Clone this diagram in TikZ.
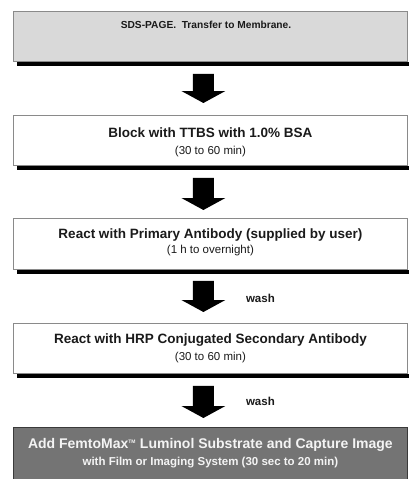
\documentclass[tikz,border=0pt]{standalone}
\usepackage{fontspec}
\setmainfont{Liberation Sans}
\usetikzlibrary{calc}
\definecolor{lightbox}{HTML}{D9D9D9}
\definecolor{darkbox}{HTML}{747474}
\definecolor{boxline}{HTML}{8A8A8A}
\definecolor{darkline}{HTML}{3A3A3A}
\definecolor{inktext}{HTML}{1A1A1A}
\definecolor{paletext}{HTML}{F4F4F4}
\newcommand{\blockarr}[2]{%
  \fill[black] ($(#1)+(-10.5,0)$) -- ($(#1)+(10.5,0)$) -- ($(#2)+(10.5,-12)$) -- ($(#2)+(22,-12)$) -- (#2) -- ($(#2)+(-22,-12)$) -- ($(#2)+(-10.5,-12)$) -- cycle;}
\newcommand{\subline}[1]{{\mdseries\fontsize{11.5}{13}\selectfont #1}}
\begin{document}
\begin{tikzpicture}[x=1pt,y=-1pt,
  stepbox/.style={draw=boxline, line width=0.8pt, fill=white, minimum width=394pt,
    minimum height=50pt, anchor=north west, inner sep=0pt, align=center,
    text=inktext, font=\bfseries\fontsize{13.5}{17}\selectfont},
  washlabel/.style={font=\bfseries\fontsize{11.5}{13}\selectfont, text=inktext, inner sep=0pt}]
\useasboundingbox (0,0) rectangle (409,479);
\fill[white] (0,0) rectangle (409,479);
% boxes
\node[stepbox, fill=lightbox] (b1) at (13,11) {};
\node[font=\bfseries\fontsize{10.2}{12}\selectfont, text=inktext, inner sep=0pt] (b1t) at (206,25)
  {SDS-PAGE.\ \ Transfer to Membrane.};
\node[stepbox] (b2) at (13,115)
  {\rule{0pt}{14pt}Block with TTBS with 1.0\% BSA\\\subline{(30 to 60 min)}};
\node[stepbox, minimum height=51pt] (b3) at (13,218)
  {React with Primary Antibody (supplied by user)\\[-2pt]\subline{(1 h to overnight)}\rule[-6pt]{0pt}{6pt}};
\node[stepbox] (b4) at (13,323)
  {React with HRP Conjugated Secondary Antibody\\\subline{(30 to 60 min)}};
\node[stepbox, fill=darkbox, draw=darkline, text=paletext, minimum height=54pt,
  font=\bfseries\fontsize{14}{17}\selectfont] (b5) at (13,427)
  {Add FemtoMax\textsuperscript{\tiny TM} Luminol Substrate and Capture Image\\{\fontsize{11.5}{13}\selectfont with Film or Imaging System (30 sec to 20 min)}\rule[-4pt]{0pt}{4pt}};
% shadows
\foreach \b in {b1,b2,b3,b4}{
  \fill[black] ([xshift=4pt]\b.south west) rectangle ([xshift=2pt,yshift=-4.5pt]\b.south east);
}
% arrows
\coordinate (a1s) at ([xshift=-7pt,yshift=-12pt]b1.south);
\coordinate (a1e) at ([xshift=-7pt,yshift=12pt]b2.north);
\coordinate (a2s) at ([xshift=-7pt,yshift=-12pt]b2.south);
\coordinate (a2e) at ([xshift=-7pt,yshift=8pt]b3.north);
\coordinate (a3s) at ([xshift=-7pt,yshift=-11pt]b3.south);
\coordinate (a3e) at ([xshift=-7pt,yshift=11pt]b4.north);
\coordinate (a4s) at ([xshift=-7pt,yshift=-12pt]b4.south);
\coordinate (a4e) at ([xshift=-7pt,yshift=9pt]b5.north);
\blockarr{a1s}{a1e}
\blockarr{a2s}{a2e}
\blockarr{a3s}{a3e}
\blockarr{a4s}{a4e}
\node[washlabel] (w3) at ($(a3e)+(57,-14)$) {wash};
\node[washlabel] (w4) at ($(a4e)+(57,-17)$) {wash};
\end{tikzpicture}
\end{document}
